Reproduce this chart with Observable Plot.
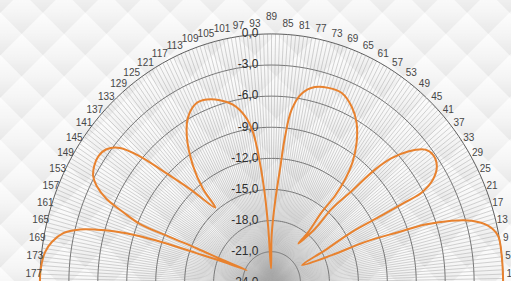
<!DOCTYPE html>
<html><head><meta charset="utf-8">
<script src="https://cdn.jsdelivr.net/npm/d3@7"></script>
<script src="https://cdn.jsdelivr.net/npm/@observablehq/plot@0.6"></script>
<style>
html,body{margin:0;padding:0;width:511px;height:281px;overflow:hidden;background:#f1f1f1;position:relative;}
#bg{position:absolute;left:-345px;top:-460px;width:1200px;height:1200px;transform:rotate(45deg);
 background-image:linear-gradient(135deg,#fdfdfd 0%,#f5f5f5 50%,#e8e8e8 100%);background-size:30px 30px;}
#chart{position:absolute;left:0;top:0;}
</style></head><body><div id="bg"></div><div id="chart"></div>
<script>
// Radiation pattern (angle in degrees, gain in dB)
const patternAngle = [0,0.8,6.3,11.0,13.8,16.1,17.8,19.4,20.4,22.1,23.1,28.5,
 29.5,30.5,29.6,29.3,29.2,30.8,33.3,36.4,38.9,41.8,44.0,45.5,46.8,48.8,49.1,53.6,
 52.1,52.6,51.9,52.6,54.1,56.8,60.2,63.9,68.3,72.6,76.6,80.3,82.9,84.3,85.4,87.3,89.8,92.0,
 93.6,94.6,95.9,97.5,99.7,103.0,106.9,110.8,114.1,118.3,121.9,125.8,128.1,128.8,
 133.1,136.2,138.2,140.4,143.0,145.8,148.5,150.9,152.7,154.7,156.1,157.4,157.25,156.8,156.4,154.6,
 158.0,159.8,160.9,161.9,163.1,164.2,165.5,167.5,170.2,172.8,176.7,180];
const patternGain = [0,0,0,-0.1,-0.9,-2.4,-4.4,-7.1,-10.0,-13.5,-17.2,-20.4,
 -17.6,-14.4,-10.9,-8.1,-6.2,-4.5,-3.5,-3.2,-3.55,-5.0,-6.7,-8.7,-11.85,-14.5,-17.1,-19.3,
 -17.8,-15.4,-13.3,-11.4,-9.7,-7.9,-6.25,-5.1,-4.3,-4.3,-4.6,-5.5,-7.2,-9.8,-13.0,-16.2,-19.4,-22.6,
 -18.8,-15.6,-12.4,-9.4,-7.7,-6.4,-5.6,-5.1,-5.0,-5.8,-7.4,-10.1,-12.5,-14.7,
 -11.6,-8.45,-5.7,-3.6,-2.6,-2.3,-2.45,-2.85,-3.6,-5.1,-7.2,-9.2,-12.6,-15.6,-18.55,-21.15,
 -18.6,-15.7,-12.1,-9.3,-6.9,-5.2,-3.5,-1.9,-0.9,-0.35,-0.05,0];
// Radial axis levels (dB)
const ringLevels = [0,-3,-6,-9,-12,-15,-18,-21,-24];
// Angular tick labels
const angleTicks = [1,5,9,13,17,21,25,29,33,37,41,45,49,53,57,61,65,69,73,77,81,85,89,
 93,97,101,105,109,113,117,121,125,129,133,137,141,145,149,153,157,161,165,169,173,177];

const MIN = -24;
const W = 511, H = 281, CX = 271, CY = 282.3, SX = 9.65, SY = 10.37;
const rad = a => a * Math.PI / 180;
const px = (a, g) => (g - MIN) * Math.cos(rad(a));
const py = (a, g) => (g - MIN) * Math.sin(rad(a));

const pattern = patternAngle.map((a, i) => ({a, g: patternGain[i]}));
const spokes = d3.range(0, 360, 1);
const ringPts = ringLevels.slice(0, -1).flatMap(l => d3.range(0, 361, 2).map(a => ({l, a})));
const fmt = v => v.toFixed(1).replace(".", ",").replace("-0,0", "0,0");

const chart = Plot.plot({
  width: W, height: H, margin: 0,
  style: {background: "transparent", overflow: "visible", fontFamily: "'Liberation Sans', Arial, sans-serif"},
  x: {domain: [-CX / SX, (W - CX) / SX], range: [0, W], axis: null},
  y: {domain: [(CY - H) / SY, CY / SY], range: [H, 0], axis: null},
  marks: [
    Plot.link(spokes, {x1: () => 0, y1: () => 0, x2: a => px(a, 0), y2: a => py(a, 0), stroke: "#a8a8a8", strokeWidth: 0.5}),
    Plot.line(ringPts, {x: d => px(d.a, d.l), y: d => py(d.a, d.l), z: "l", stroke: d => d.l === 0 ? "#5e5e5e" : "#777", strokeWidth: 1}),
    Plot.text(ringLevels, {x: () => 0, y: l => l - MIN, text: fmt, textAnchor: "end", dx: -13, dy: -0.5, fontSize: 12, fill: "#2e2e2e"}),
    Plot.line(pattern, {x: d => px(d.a, d.g), y: d => py(d.a, d.g), stroke: "#e8822f", strokeWidth: 2, curve: "catmull-rom"}),
    Plot.text(angleTicks.filter(v => v !== 89), {
      x: v => 24.65 * Math.cos(rad(v + 1)), y: v => 25 * Math.sin(rad(v + 1)),
      text: v => String(v), textAnchor: v => v > 89 ? "end" : "start", fontSize: 10, fill: "#474747"}),
    Plot.text(angleTicks.filter(v => v === 89), {
      x: v => 24.65 * Math.cos(rad(v + 1)), y: v => 25 * Math.sin(rad(v + 1)),
      text: v => String(v), textAnchor: "middle", dy: -7, fontSize: 10, fill: "#474747"})
  ]
});
document.getElementById("chart").appendChild(chart);
</script></body></html>
